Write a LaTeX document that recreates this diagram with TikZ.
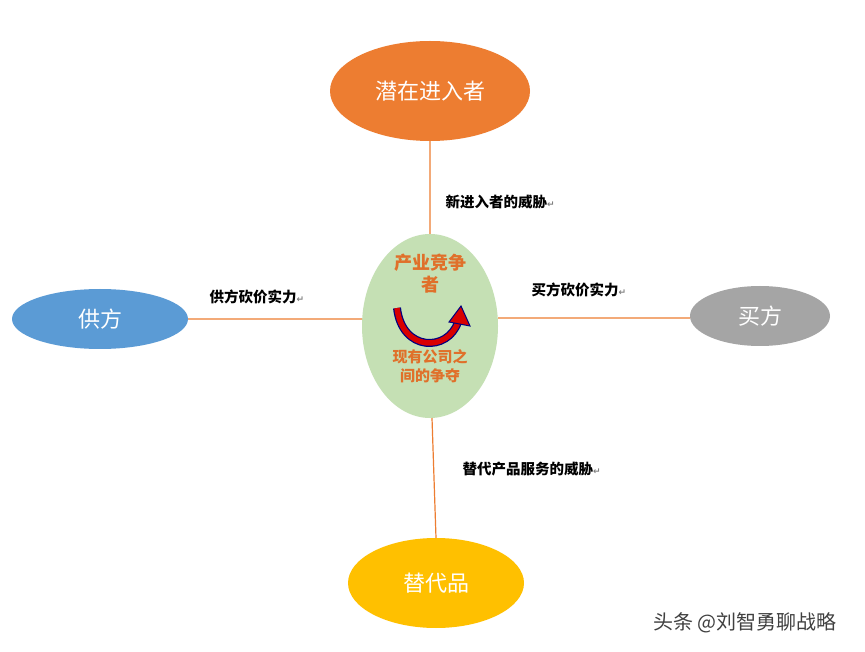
\documentclass[tikz,border=0pt]{standalone}
\usepackage{fontspec}
\setmainfont{Noto Sans CJK SC}
\newfontfamily\djv{DejaVu Sans}
\definecolor{cor}{HTML}{ED7D31}
\definecolor{cbl}{HTML}{5B9BD5}
\definecolor{cgr}{HTML}{A5A5A5}
\definecolor{cgo}{HTML}{FFC000}
\definecolor{cgn}{HTML}{C5E0B4}
\definecolor{ctx}{HTML}{E0702A}
\begin{document}
\begin{tikzpicture}[x=1pt,y=-1pt,
  oval/.style={draw=none,text=white,font=\fontsize{22}{24}\selectfont},
  conn/.style={line width=1.2pt,draw=cor},
  lab/.style={font=\bfseries\fontsize{14.5}{16}\selectfont,anchor=west},
  ctext/.style={align=center,text=ctx}]
\useasboundingbox (0,0) rectangle (865,652);
\fill[white] (0,0) rectangle (865,652);
\newcommand{\rt}{{\djv\color{gray}\fontsize{9}{9}\selectfont ↵}}
\fill[cor] (430,91) ellipse [x radius=100,y radius=50];
\node (top) at (430,91) [oval] {潜在进入者};
\fill[cbl] (100,319) ellipse [x radius=88,y radius=30];
\node (sup) at (100,319) [oval] {供方};
\fill[cgr] (760,316) ellipse [x radius=70,y radius=30];
\node (buy) at (760,316) [oval] {买方};
\fill[cgo] (436,583) ellipse [x radius=88,y radius=45];
\node (sub) at (436,583) [oval] {替代品};
\fill[cgn] (430,326) ellipse [x radius=68,y radius=92];
\coordinate (t1) at (430,141); \coordinate (t2) at (430,234);
\coordinate (l1) at (188,319); \coordinate (l2) at (362,319);
\coordinate (r1) at (498,318); \coordinate (r2) at (690,318);
\coordinate (b1) at (432,418); \coordinate (b2) at (436,538);
\draw[conn] (t1)--(t2) (l1)--(l2) (r1)--(r2) (b1)--(b2);
\node[lab] at (442,202) {新进入者的威胁\rt};
\node[lab] at (206,297) {供方砍价实力\rt};
\node[lab] at (528,290) {买方砍价实力\rt};
\node[lab] at (459,469) {替代产品服务的威胁\rt};
\node[ctext,font=\bfseries\fontsize{18}{22}\selectfont] at (430,274) {产业竞争\\者};
\node[ctext,font=\bfseries\fontsize{15}{19}\selectfont] at (430,366) {现有公司之\\间的争夺};
\draw[blue!50!black,line width=8pt] (397,308) .. controls (402,352) and (448,352) .. (458,322);
\draw[red!85!black,line width=5.5pt] (397,308) .. controls (402,352) and (448,352) .. (458,322);
\fill[red!85!black,draw=blue!50!black,line width=1pt] (449,322)--(461,306)--(470,326)--cycle;
\node[text=black!75,font=\fontsize{20}{22}\selectfont] at (745,623) {头条 @刘智勇聊战略};
\end{tikzpicture}
\end{document}
